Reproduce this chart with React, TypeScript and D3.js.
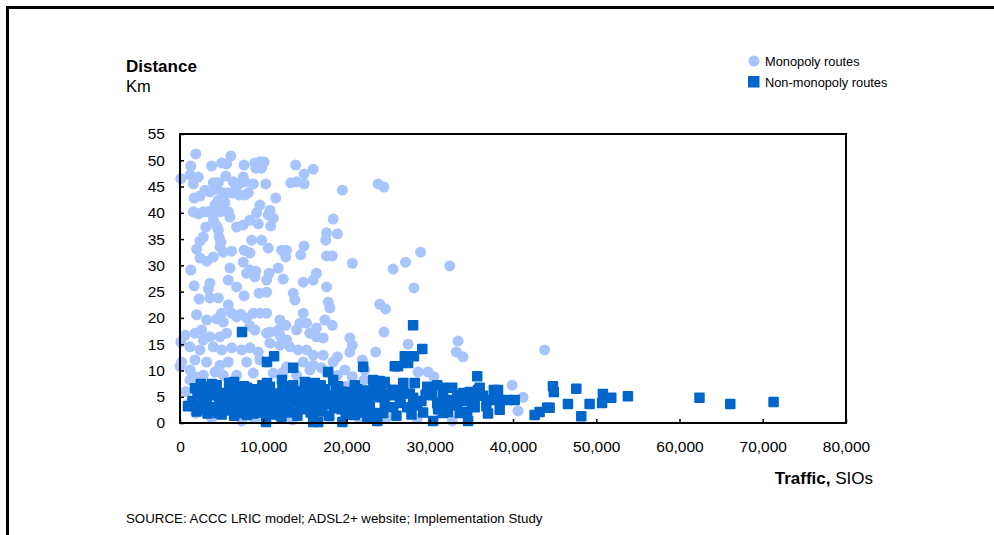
import { useEffect, useRef } from "react";
import * as d3 from "d3";

// [traffic (SIOs), distance (km)]
const monopolyRoutes: [number, number][] = [
  [1900, 51.2], [6100, 50.8], [1300, 48.9], [3800, 48.9], [5000, 49.5], [5600, 49.3], [7700, 49.1], [9000, 49.5],
  [9600, 49.7], [10100, 49.7], [9100, 48.5], [9800, 48.5], [13900, 49.1], [16000, 48.3],
  [100, 46.5], [1200, 47.2], [2200, 46.8], [5500, 47.0], [7600, 46.8], [14900, 47.4],
  [1600, 45.5], [4000, 45.7], [4600, 45.7], [6400, 45.9], [6800, 44.9], [7300, 45.7], [7800, 45.9], [8800, 45.5],
  [10300, 45.5], [13300, 45.7], [14000, 45.9], [14900, 45.5], [19500, 44.3], [23800, 45.5], [24500, 44.9],
  [1700, 42.8], [2400, 43.2], [3000, 44.3], [3600, 44.0], [4400, 44.5], [5200, 43.8], [5800, 43.8], [6400, 43.8],
  [7100, 43.4], [7800, 43.4], [8200, 43.8], [11500, 42.8],
  [4600, 42.4], [5200, 42.1], [4200, 41.5], [4800, 40.9], [5400, 41.9], [9600, 41.5],
  [1600, 40.2], [2200, 39.8], [2800, 40.2], [3400, 40.2], [4400, 40.5], [4800, 40.2], [5800, 40.2], [6000, 39.2],
  [9200, 40.0], [10800, 40.5], [10600, 39.6], [11200, 39.0], [18400, 38.8],
  [4000, 38.6], [4400, 37.5], [4600, 36.7], [6800, 37.3], [7600, 37.7], [8400, 38.6], [9400, 37.9], [10900, 37.5],
  [3100, 37.3], [17600, 36.2], [18900, 36.0],
  [2800, 35.4], [2400, 34.6], [4700, 35.4], [4900, 34.4], [4800, 33.5], [8600, 34.8], [9800, 34.8], [17500, 34.8],
  [2000, 33.1], [5200, 32.5], [6200, 32.7], [7700, 32.9], [8400, 32.4], [10600, 33.3], [12200, 32.9], [12800, 32.9],
  [12700, 31.6], [14900, 33.7],
  [2400, 31.4], [3200, 30.8], [4000, 31.6], [14500, 32.0], [17600, 31.8], [18300, 31.8], [20700, 30.4],
  [1300, 29.1], [6000, 29.5], [7600, 30.6], [8400, 29.1], [9100, 28.9], [9000, 27.8], [8000, 28.5], [10700, 28.5],
  [10400, 27.2], [11800, 29.5], [12400, 27.4], [14800, 26.8], [16400, 28.5], [16000, 27.2], [17600, 25.9],
  [1700, 26.1], [3600, 26.6], [5800, 27.2], [6800, 25.9],
  [28900, 32.5], [32400, 29.9], [27100, 30.6], [25600, 29.3], [28100, 25.7],
  [3400, 25.5], [7700, 24.2], [9500, 24.7], [10400, 24.9], [13600, 24.7], [13800, 23.4], [17800, 23.0], [18000, 21.9],
  [2300, 23.6], [3600, 23.8], [4600, 23.8], [5800, 22.5], [6200, 20.9], [2000, 20.6], [3200, 19.6], [4400, 19.8],
  [5000, 20.9], [5200, 19.2], [6800, 20.2], [7300, 20.7], [8000, 20.0], [8800, 20.9], [9600, 20.9], [10400, 20.9],
  [12000, 19.6], [12700, 18.6], [11800, 17.7], [14800, 20.9], [15200, 19.0], [14400, 19.0], [17400, 19.6],
  [18300, 18.6], [16400, 18.1],
  [600, 16.7], [100, 15.4], [1800, 17.1], [2600, 17.7], [3600, 16.4], [2800, 15.8], [4800, 16.4], [5600, 17.1],
  [8400, 18.5], [9000, 17.7], [10400, 17.1], [10800, 17.3], [12000, 16.7], [12800, 15.8], [14000, 17.7],
  [15600, 17.1], [16400, 16.4], [17200, 16.2], [20400, 16.2], [20700, 14.8], [20400, 13.5],
  [1200, 14.5], [2400, 13.9], [4000, 14.5], [5000, 13.9], [6200, 14.3], [7400, 13.9], [8400, 14.3], [9400, 13.5],
  [10800, 15.2], [12000, 14.8], [13200, 14.5], [14200, 13.9], [15200, 13.9], [16000, 12.9], [17200, 12.9],
  [18900, 12.6], [18400, 11.6], [21900, 12.0], [22000, 10.5],
  [200, 11.6], [0, 10.8], [1800, 12.0], [1200, 10.1], [3200, 11.6], [4800, 11.0], [5800, 11.6], [8000, 11.6],
  [9600, 12.0], [10400, 11.6], [12800, 10.7], [14800, 11.6], [16000, 11.0], [17000, 10.5], [17600, 9.7], [19800, 10.1],
  [24000, 22.6], [24700, 21.7], [24500, 17.3], [27400, 15.0], [23500, 13.5], [33400, 15.6], [33200, 13.5],
  [34000, 12.6], [28600, 9.7], [29800, 9.7], [30500, 8.8], [22100, 8.2], [22200, 10.1], [43800, 13.9], [39900, 7.2],
  [41200, 4.9], [27300, 7.6], [30900, 3.0], [31200, 2.1], [32700, 0.4], [40600, 2.3], [7400, 0.4],
  [1800, 8.8], [2800, 9.1], [4200, 9.7], [5200, 9.1], [6800, 9.1], [8800, 9.5], [11200, 9.5], [12400, 9.7],
  [14000, 9.1], [15600, 10.1], [18900, 9.1], [20700, 8.8], [1200, 8.2], [2200, 7.2], [7400, 6.7],
  [700, 6.0], [1000, 3.6], [1900, 1.9], [3800, 0.9], [9000, 0.8], [13500, 0.6], [18000, 1.0], [21500, 0.9],
  [25000, 6.5], [20000, 7.0], [24800, 1.0], [28500, 0.8],
];

const nonMonopolyRoutes: [number, number][] = [
  [7450, 17.3], [11300, 12.7], [10450, 11.6], [13600, 10.5], [22000, 10.7], [28000, 18.6], [29100, 14.1],
  [28100, 12.7], [27000, 12.7], [25800, 10.8], [26200, 10.8], [27400, 11.4], [35700, 8.9], [36000, 6.7],
  [37700, 6.3], [38200, 6.3], [37200, 4.4], [38400, 4.4], [39300, 4.4], [40200, 4.4], [38400, 2.5], [42600, 1.5],
  [43200, 2.1], [44100, 2.9], [44400, 2.9], [44800, 7.0], [44900, 5.9], [47600, 6.5], [46600, 3.6], [48200, 1.3],
  [49200, 3.6], [50800, 5.5], [51800, 4.8], [50700, 3.8], [53800, 5.1], [62400, 4.8], [66100, 3.6], [71300, 4.0],
  [23700, 0.4], [30400, 0.4], [34600, 0.4], [32200, 2.1], [31600, 1.9],
  [23200, 8.2], [24000, 8.0], [24600, 7.8], [22000, 5.7], [22600, 4.4], [22200, 2.9], [23400, 6.7], [25500, 6.3],
  [25800, 6.3], [26800, 7.6], [28200, 7.6], [24000, 4.9], [25200, 5.3], [26400, 4.9], [28000, 4.8], [24600, 3.4],
  [25600, 3.0], [27300, 3.0], [28500, 3.4], [23200, 1.9], [24400, 1.9], [29700, 6.9], [30900, 7.2], [31600, 6.7],
  [32700, 6.7], [30300, 5.3], [31600, 4.9], [33300, 5.3], [34000, 5.7], [34800, 5.9], [30900, 3.8], [32100, 3.0],
  [33300, 3.4], [35100, 3.4], [35400, 3.0], [33600, 1.9], [34500, 2.1], [35400, 4.8], [35800, 6.3],
  [960, 3.2], [2400, 3.2], [3240, 6.9], [3840, 7.4], [6500, 7.8], [8050, 6.7], [3240, 4.9], [4440, 5.3],
  [5160, 5.7], [4560, 1.9], [6970, 1.9], [8050, 1.5], [10450, 7.6], [10800, 6.9], [12250, 8.2], [12370, 6.9],
  [10330, 0.2], [12000, 1.5], [13600, 7.2], [15000, 7.8], [16200, 7.6], [16000, 0.2], [16600, 0.2], [17800, 9.7],
  [18400, 8.2], [19500, 0.2], [20100, 5.9], [21600, 5.7], [21000, 1.5],
  [1500, 4.2], [2100, 5.6], [2800, 2.6], [3000, 4.0], [3600, 3.0], [4100, 6.0], [4700, 3.6], [5300, 2.4],
  [5600, 4.6], [6000, 6.2], [6200, 3.2], [6700, 5.0], [7100, 2.8], [7400, 4.4], [7900, 3.6], [8300, 5.4],
  [8600, 2.2], [8900, 4.0], [9200, 6.4], [9500, 3.0], [9800, 5.0], [10100, 2.6], [10500, 4.4], [11000, 3.4],
  [11300, 5.6], [11700, 2.4], [12000, 4.6], [12600, 3.0], [12900, 5.2], [13300, 2.0], [13700, 4.0], [14000, 6.0],
  [14400, 3.2], [14800, 5.0], [15200, 2.6], [15500, 4.2], [15900, 5.8], [16300, 3.0], [16700, 4.6], [17100, 2.2],
  [17400, 6.4], [17800, 3.6], [18100, 5.0], [18500, 2.8], [18900, 4.2], [19300, 6.0], [19600, 3.4], [20000, 4.6],
  [20400, 2.4], [20800, 5.6], [21200, 3.8], [21600, 2.0], [22400, 6.2], [22800, 3.2],
  [1800, 6.6], [2500, 7.4], [3300, 1.8], [4400, 7.2], [5000, 1.6], [5900, 7.6], [6500, 1.4], [7700, 7.0],
  [8800, 1.8], [9900, 7.2], [10900, 1.6], [12200, 1.2], [13100, 7.0], [14100, 1.4], [15000, 6.6], [16000, 1.6],
  [16900, 7.2], [17900, 1.4], [19000, 7.0], [19900, 1.6], [21000, 7.2], [22500, 1.2], [26000, 1.4], [27800, 1.6],
  [29200, 2.0], [29000, 4.2], [26800, 5.8], [36800, 3.2], [37000, 1.8],
  [2000, 2.2], [2700, 5.0], [3900, 2.4], [4900, 4.4], [5800, 3.0], [6400, 4.2], [7200, 6.0], [7600, 2.0],
  [8500, 3.2], [9300, 4.8], [9700, 2.0], [10200, 5.8], [10800, 3.0], [11600, 4.0], [12300, 6.2], [13000, 3.8],
  [13500, 5.6], [14300, 4.6], [15000, 3.6], [15700, 2.0], [16500, 6.0], [17000, 4.0], [17600, 5.2], [18300, 3.6],
  [18700, 6.6], [19400, 2.6], [19800, 5.4], [20600, 3.4], [21300, 6.4], [21800, 4.4], [23000, 5.2], [24200, 6.0],
  [26500, 3.8], [27600, 5.6], [29500, 5.4], [31000, 2.6], [32300, 4.4], [34200, 4.2], [36400, 5.2],
];

const xTicks = [0, 10000, 20000, 30000, 40000, 50000, 60000, 70000, 80000];
const yTicks = [0, 5, 10, 15, 20, 25, 30, 35, 40, 45, 50, 55];
const legendLabels = ["Monopoly routes", "Non-monopoly routes"];

const FONT = "'Liberation Sans', Arial, sans-serif";
const LIGHT = "#a8c4fd";
const DARK = "#0066cc";

export default function App() {
  const ref = useRef<SVGSVGElement>(null);

  useEffect(() => {
    const svg = d3.select(ref.current);
    svg.selectAll("*").remove();

    const x = d3.scaleLinear().domain([0, 80000]).range([180, 846]);
    const y = d3.scaleLinear().domain([0, 55]).range([423, 134]);

    // outer frame (top and left edges only)
    svg.append("line").attr("x1", 6).attr("x2", 994).attr("y1", 7.5).attr("y2", 7.5)
      .attr("stroke", "#000").attr("stroke-width", 3);
    svg.append("line").attr("x1", 7.5).attr("x2", 7.5).attr("y1", 6).attr("y2", 535)
      .attr("stroke", "#000").attr("stroke-width", 3);

    // points: monopoly first, non-monopoly on top
    svg.append("g").selectAll("circle").data(monopolyRoutes).join("circle")
      .attr("cx", (d) => x(d[0]))
      .attr("cy", (d) => y(d[1]))
      .attr("r", 5.5)
      .attr("fill", LIGHT);

    const s = 10.5;
    svg.append("g").selectAll("rect").data(nonMonopolyRoutes).join("rect")
      .attr("x", (d) => x(d[0]) - s / 2)
      .attr("y", (d) => y(d[1]) - s / 2)
      .attr("width", s)
      .attr("height", s)
      .attr("rx", 1)
      .attr("fill", DARK);

    // plot frame
    svg.append("rect")
      .attr("x", 180).attr("y", 134).attr("width", 666).attr("height", 289)
      .attr("fill", "none").attr("stroke", "#000").attr("stroke-width", 2);

    // axes
    const xAxis = svg.append("g")
      .attr("transform", "translate(0,423)")
      .call(d3.axisBottom(x).tickValues(xTicks).tickSize(-4).tickPadding(18).tickFormat(d3.format(",")));
    const yAxis = svg.append("g")
      .attr("transform", "translate(180,0)")
      .call(d3.axisLeft(y).tickValues(yTicks).tickSize(-4).tickPadding(15));
    [xAxis, yAxis].forEach((g) => {
      g.select(".domain").remove();
      g.selectAll("line").attr("stroke", "#000").attr("stroke-width", 1.5);
      g.selectAll("text").attr("fill", "#000").style("font-family", FONT).style("font-size", "15.5px");
    });

    // axis titles
    svg.append("text").attr("x", 126).attr("y", 72)
      .style("font-family", FONT).style("font-size", "17px").style("font-weight", "bold")
      .text("Distance");
    svg.append("text").attr("x", 126).attr("y", 92)
      .style("font-family", FONT).style("font-size", "16.5px")
      .text("Km");

    const xt = svg.append("text").attr("x", 873).attr("y", 484).attr("text-anchor", "end")
      .style("font-family", FONT).style("font-size", "17px");
    xt.append("tspan").style("font-weight", "bold").text("Traffic,");
    xt.append("tspan").text(" SIOs");

    // legend
    svg.append("circle").attr("cx", 754).attr("cy", 61).attr("r", 5.5).attr("fill", LIGHT);
    svg.append("rect").attr("x", 748).attr("y", 76).attr("width", 11.5).attr("height", 11.5).attr("fill", DARK);
    svg.selectAll(".legend-label").data(legendLabels).join("text")
      .attr("class", "legend-label")
      .attr("x", 765)
      .attr("y", (_, i) => 65.5 + i * 21)
      .style("font-family", FONT).style("font-size", "12.8px")
      .text((d) => d);

    // source
    svg.append("text").attr("x", 126).attr("y", 523)
      .style("font-family", FONT).style("font-size", "13.3px")
      .text("SOURCE: ACCC LRIC model; ADSL2+ website; Implementation Study");
  }, []);

  return (
    <svg
      ref={ref}
      width={994}
      height={535}
      style={{ position: "absolute", left: 0, top: 0, background: "#fff", display: "block" }}
    />
  );
}
